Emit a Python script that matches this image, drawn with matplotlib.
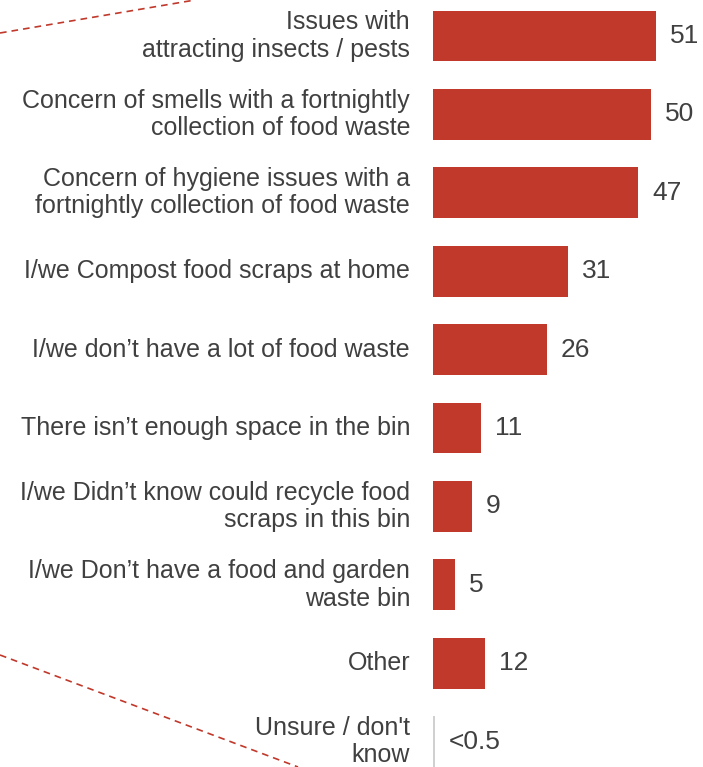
import matplotlib
matplotlib.use("Agg")
import matplotlib.pyplot as plt
from matplotlib.lines import Line2D

plt.rcParams["font.family"] = ["Liberation Sans", "DejaVu Sans"]

REASONS = [
    "Issues with\nattracting insects / pests",
    "Concern of smells with a fortnightly\ncollection of food waste",
    "Concern of hygiene issues with a\nfortnightly collection of food waste",
    "I/we Compost food scraps at home",
    "I/we don\u2019t have a lot of food waste",
    "There isn\u2019t enough space in the bin",
    "I/we Didn\u2019t know could recycle food\nscraps in this bin",
    "I/we Don\u2019t have a food and garden\nwaste bin",
    "Other",
    "Unsure / don't\nknow",
]
VALUES = [51, 50, 47, 31, 26, 11, 9, 5, 12, 0.5]
VALUE_LABELS = ["51", "50", "47", "31", "26", "11", "9", "5", "12", "<0.5"]

RED = "#c0392b"
GREY_BAR = "#d0d0d0"
TEXT = "#404040"

W, H = 703, 767
fig = plt.figure(figsize=(W / 100, H / 100), dpi=100)
ax = fig.add_axes([433 / W, 0, 262 / W, 1])

colors = [RED] * (len(VALUES) - 1) + [GREY_BAR]
ys = list(range(len(VALUES)))
ax.barh(ys, VALUES, height=0.65, color=colors)

for y, label, v, vl in zip(ys, REASONS, VALUES, VALUE_LABELS):
    ax.annotate(label, xy=(0, y), xycoords=("axes fraction", "data"),
                xytext=(-16.5, 0), textcoords="offset points",
                ha="right", va="center", fontsize=18, color=TEXT,
                linespacing=1.18)
    ax.annotate(vl, xy=(v, y), xytext=(10, 0), textcoords="offset points",
                ha="left", va="center", fontsize=19, color=TEXT)

ax.set_xlim(0, 60)
ax.set_ylim(9.324, -0.459)
ax.axis("off")

# callout lines tying the breakdown back to the parent figure
fig.add_artist(Line2D([0, 195 / W], [1 - 33 / H, 1.0], transform=fig.transFigure,
                      color=RED, linestyle=(0, (4, 3)), linewidth=1.2))
fig.add_artist(Line2D([0, 298 / W], [1 - 655 / H, 0], transform=fig.transFigure,
                      color=RED, linestyle=(0, (4, 3)), linewidth=1.2))

fig.savefig("out.png", dpi=100)
